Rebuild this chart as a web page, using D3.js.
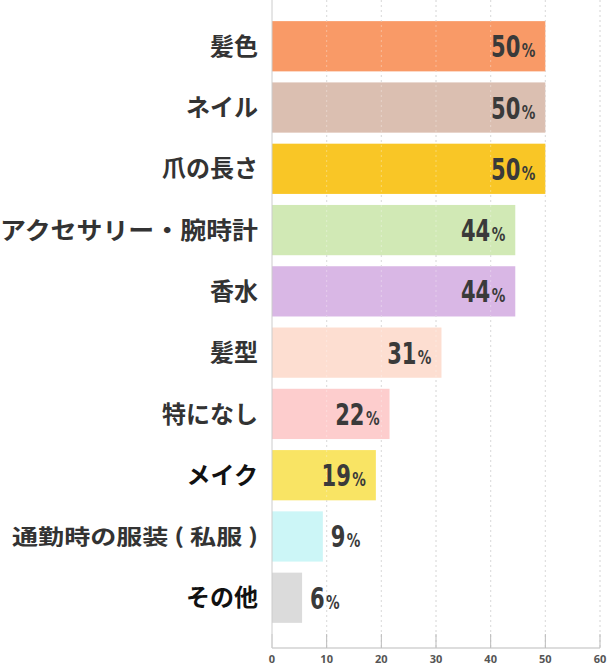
<!DOCTYPE html>
<html><head><meta charset="utf-8">
<script src="https://cdn.jsdelivr.net/npm/d3@7"></script>
<style>body{margin:0;background:#fff}</style></head>
<body><svg id="c" width="610" height="665"></svg>
<script>
const categories = ['髪色','ネイル','爪の長さ','アクセサリー・腕時計','香水','髪型','特になし','メイク','通勤時の服装 ( 私服 )','その他'];
const values = [50, 50, 50, 44.5, 44.5, 31, 21.5, 19, 9.3, 5.5];
const labels = ['50','50','50','44','44','31','22','19','9','6'];
const colors = ['#f9955f','#d9bcad','#f9c31a','#cfe8b1','#d7b3e4','#fddccf','#fdcaca','#f9e35c','#c9f6f7','#d9d9d9'];
const labelWidths = [0,0,0,258,0,0,0,0,246,0];
const ticks = [0,10,20,30,40,50,60];

const svg = d3.select('#c');
const x = d3.scaleLinear().domain([0,60]).range([272,600]);
const y = d3.scaleBand().domain(categories).range([15,629]).paddingInner(0.18).paddingOuter(0.1);

// grid
svg.append('g').selectAll('line').data(ticks.slice(1)).join('line')
  .attr('x1', d => x(d)).attr('x2', d => x(d)).attr('y1', 0).attr('y2', 648)
  .attr('stroke', '#ccc').attr('stroke-dasharray', '2,3');

svg.append('g').selectAll('rect').data(categories).join('rect')
  .attr('x', x(0)).attr('y', d => y(d))
  .attr('width', (d,i) => x(values[i]) - x(0)).attr('height', y.bandwidth())
  .attr('fill', (d,i) => colors[i]).attr('fill-opacity', 0.95);

// dotted grid over bars
svg.append('g').selectAll('line').data(ticks.slice(1)).join('line')
  .attr('x1', d => x(d)).attr('x2', d => x(d)).attr('y1', 0).attr('y2', 648)
  .attr('stroke', '#fff').attr('stroke-opacity', 0.35).attr('stroke-dasharray', '2,3');

// value labels (condensed via horizontal scale)
const vl = svg.append('g').selectAll('text').data(categories).join('text')
  .attr('transform', (d,i) => {
    const tx = values[i] < 12 ? x(values[i]) + 8 : x(values[i]) - 10;
    return `translate(${tx},${y(d) + y.bandwidth()/2 + 11}) scale(0.68,1)`;
  })
  .attr('text-anchor', (d,i) => values[i] < 12 ? 'start' : 'end')
  .attr('fill', '#3a3a3a')
  .style('font-family', '"DejaVu Sans",sans-serif')
  .style('font-weight', 'bold');
vl.append('tspan').attr('font-size', 31).text((d,i) => labels[i]);
vl.append('tspan').attr('font-size', 20).attr('dx', 2).text('%');

// categories
svg.append('g').selectAll('text').data(categories).join('text')
  .attr('x', 258).attr('y', d => y(d) + y.bandwidth()/2)
  .attr('dy', '0.36em').attr('text-anchor', 'end')
  .attr('font-size', (d,i) => labelWidths[i] ? (i === 3 ? 24 : 21) : 24)
  .attr('textLength', (d,i) => labelWidths[i] || null)
  .attr('lengthAdjust', 'spacingAndGlyphs')
  .attr('fill', (d,i) => (i === 7 || i === 9) ? '#111' : '#333')
  .style('font-family', '"Noto Sans CJK JP",sans-serif').style('font-weight', 'bold')
  .text(d => d);

// axis
const ax = svg.append('g').attr('transform', 'translate(0,648)');
ax.append('line').attr('x1', x(0)).attr('x2', x(60)).attr('stroke', '#ddd').attr('stroke-width', 2);
ax.selectAll('.t').data(ticks).join('line').attr('class','t')
  .attr('x1', d => x(d)).attr('x2', d => x(d)).attr('y1', -14).attr('y2', 0)
  .attr('stroke', d => d === 0 ? '#ccc' : '#bbb');
ax.selectAll('text').data(ticks).join('text')
  .attr('x', d => x(d)).attr('y', 15).attr('text-anchor', 'middle')
  .attr('font-size', 11).attr('fill', '#555').style('font-weight', 'bold')
  .style('font-family', '"Open Sans",sans-serif').text(d => d);
svg.append('line').attr('x1', x(0)).attr('x2', x(0)).attr('y1', 0).attr('y2', 648).attr('stroke', '#ccc');
</script></body></html>
